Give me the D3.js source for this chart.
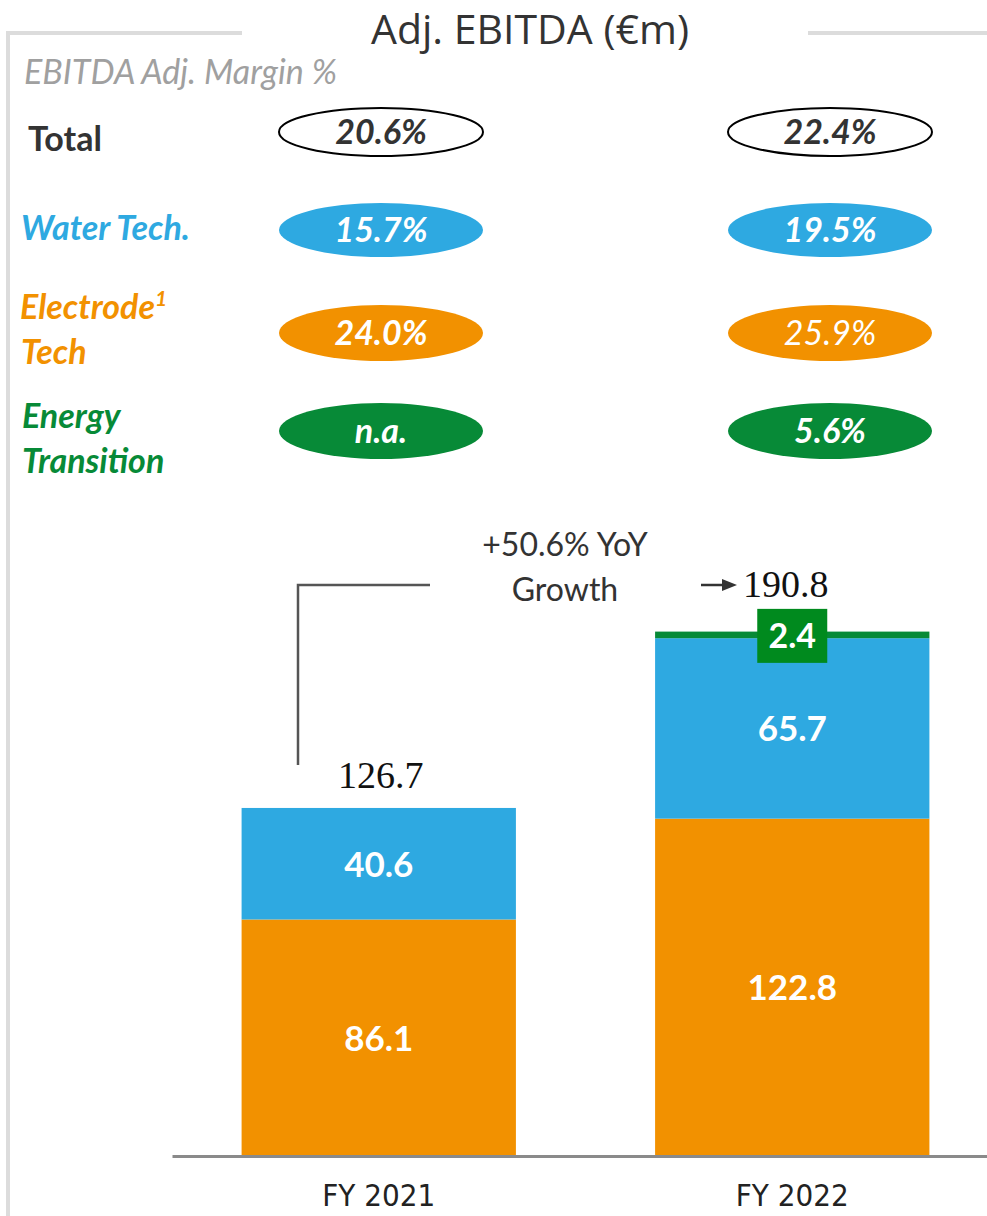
<!DOCTYPE html>
<html>
<head>
<meta charset="utf-8">
<script src="https://cdn.jsdelivr.net/npm/d3@7"></script>
<style>
body{margin:0;background:#fff;}
svg{display:block;}
.lbl{font-family:Lato,"Open Sans",sans-serif;}
</style>
</head>
<body>
<script>
var width=987, height=1216;

// data
var categories=["FY 2021","FY 2022"];
var electrode=[86.1,122.8];
var water=[40.6,65.7];
var energy=[0,2.4];
var totals=[126.7,190.8];
var growth="+50.6% YoY";
var marginRows=["Total","Water Tech.","Electrode","Energy Transition"];
var marginTotal=["20.6%","22.4%"];
var marginWater=["15.7%","19.5%"];
var marginElectrode=["24.0%","25.9%"];
var marginEnergy=["n.a.","5.6%"];

var cOrange="#F29100", cBlue="#2EA9E1", cGreen="#078A37", cDark="#333333";

var svg=d3.select("body").append("svg").attr("width",width).attr("height",height);

// frame lines
svg.append("path").attr("d","M242,33 H8 V1216").attr("fill","none").attr("stroke","#dcdcdc").attr("stroke-width",4);
svg.append("line").attr("x1",808).attr("x2",987).attr("y1",33).attr("y2",33).attr("stroke","#dcdcdc").attr("stroke-width",4);

svg.append("text").attr("class","lbl").attr("x",530).attr("y",44).attr("text-anchor","middle")
  .style("font-size","41px").style("fill","#333").style("font-family","'Open Sans',Lato,sans-serif").text("Adj. EBITDA (€m)");

svg.append("text").attr("class","lbl").attr("x",24).attr("y",84).style("font-size","34px").style("font-style","italic")
  .style("fill","#a0a0a0").text("EBITDA Adj. Margin %");

// row labels
var rl=svg.append("g").attr("class","lbl").style("font-weight","bold").style("font-size","34px");
rl.append("text").attr("x",28).attr("y",151).style("fill",cDark).text("Total");
rl.append("text").attr("x",21).attr("y",240).style("fill",cBlue).style("font-style","italic").text("Water Tech.");
var el=rl.append("text").attr("x",20).attr("y",319).style("fill",cOrange).style("font-style","italic").text("Electrode");
el.append("tspan").attr("dy",-13).style("font-size","21px").text("1");
rl.append("text").attr("x",21).attr("y",364).style("fill",cOrange).style("font-style","italic").text("Tech");
rl.append("text").attr("x",22).attr("y",428).style("fill",cGreen).style("font-style","italic").text("Energy");
rl.append("text").attr("x",22).attr("y",473).style("fill",cGreen).style("font-style","italic").text("Transition");

// margin ellipses
var mx=d3.scalePoint().domain(categories).range([381,830]);
var rows=[
  {vals:marginTotal,cy:132,ry:24,fill:"#fff",stroke:"#000",text:cDark},
  {vals:marginWater,cy:230,ry:27,fill:cBlue,stroke:"none",text:"#fff"},
  {vals:marginElectrode,cy:333,ry:28,fill:cOrange,stroke:"none",text:"#fff"},
  {vals:marginEnergy,cy:431,ry:28,fill:cGreen,stroke:"none",text:"#fff"}
];
rows.forEach(function(r){
  var g=svg.append("g").selectAll("g").data(categories).enter().append("g");
  g.append("ellipse").attr("cx",function(d){return mx(d);}).attr("cy",r.cy).attr("rx",102).attr("ry",r.ry)
    .attr("fill",r.fill).attr("stroke",r.stroke).attr("stroke-width",2);
  g.append("text").attr("class","lbl").attr("x",function(d){return mx(d);}).attr("y",r.cy+12)
    .attr("text-anchor","middle").style("font-size","34px").style("font-style","italic")
    .style("font-weight",function(d,i){return r.vals[i]=="25.9%"?"normal":"bold";})
    .style("fill",r.text).text(function(d,i){return r.vals[i];});
});

// bars
var x=d3.scaleBand().domain(categories).range([172,999]).paddingInner(0.3366).paddingOuter(0.1683);
var y=d3.scaleLinear().domain([0,200]).range([1156,606.6]);

var stack=[
  {name:"Electrode",vals:electrode,color:cOrange},
  {name:"Water",vals:water,color:cBlue},
  {name:"Energy",vals:energy,color:cGreen}
];
var base=[0,0];
stack.forEach(function(s){
  var b0=base.slice();
  svg.append("g").selectAll("rect").data(categories).enter().append("rect")
    .attr("x",function(d){return x(d);}).attr("width",x.bandwidth())
    .attr("y",function(d,i){return y(b0[i]+s.vals[i]);})
    .attr("height",function(d,i){return y(b0[i])-y(b0[i]+s.vals[i]);})
    .attr("fill",s.color);
  if(s.name!="Energy"){
    svg.append("g").selectAll("text").data(categories).enter().append("text").attr("class","lbl")
      .attr("x",function(d){return x(d)+x.bandwidth()/2;})
      .attr("y",function(d,i){return (y(b0[i])+y(b0[i]+s.vals[i]))/2+13;})
      .attr("text-anchor","middle").style("font-size","35px").style("font-weight","bold").style("fill","#fff")
      .text(function(d,i){return s.vals[i].toFixed(1);});
  }
  base=base.map(function(v,i){return v+s.vals[i];});
});

// energy label box
var e=categories[1];
svg.append("rect").attr("x",x(e)+x.bandwidth()/2-35).attr("y",y(totals[1])-23).attr("width",70).attr("height",54).attr("fill","#008a1e");
svg.append("text").attr("class","lbl").attr("x",x(e)+x.bandwidth()/2).attr("y",y(totals[1])+16).attr("text-anchor","middle")
  .style("font-size","34px").style("font-weight","bold").style("fill","#fff").text(energy[1].toFixed(1));

// totals
svg.append("text").attr("x",x(categories[0])+x.bandwidth()/2+2).attr("y",y(totals[0])-20).attr("text-anchor","middle")
  .style("font-family","'Liberation Serif',serif").style("font-size","38px").style("fill","#111").text(totals[0].toFixed(1));
svg.append("text").attr("x",743).attr("y",y(totals[1])-35).attr("text-anchor","start")
  .style("font-family","'Liberation Serif',serif").style("font-size","38px").style("fill","#111").text(totals[1].toFixed(1));
svg.append("line").attr("x1",701).attr("x2",724).attr("y1",585).attr("y2",585).attr("stroke","#333").attr("stroke-width",2.5);
svg.append("path").attr("d","M722,579 L737,585 L722,591 Z").attr("fill","#333");

// growth connector
svg.append("path").attr("d","M298,765 V585 H430").attr("fill","none").attr("stroke","#555").attr("stroke-width",2.5);
var gt=svg.append("text").attr("class","lbl").attr("text-anchor","middle").style("font-size","32px").style("fill","#333");
gt.append("tspan").attr("x",565).attr("y",556).text(growth);
gt.append("tspan").attr("x",565).attr("y",601).text("Growth");

// axis
var xaxis=d3.axisBottom(x).tickSize(0).tickSizeOuter(0).tickPadding(28);
var ax=svg.append("g").attr("transform","translate(0,1156)").call(xaxis);
ax.select(".domain").attr("stroke","#8a8a8a").attr("stroke-width",3);
ax.selectAll("text").style("font-family","'DejaVu Sans Condensed','Liberation Sans Narrow',sans-serif")
  .style("font-size","31px").style("fill","#222").attr("dy","0.71em");
</script>
</body>
</html>
